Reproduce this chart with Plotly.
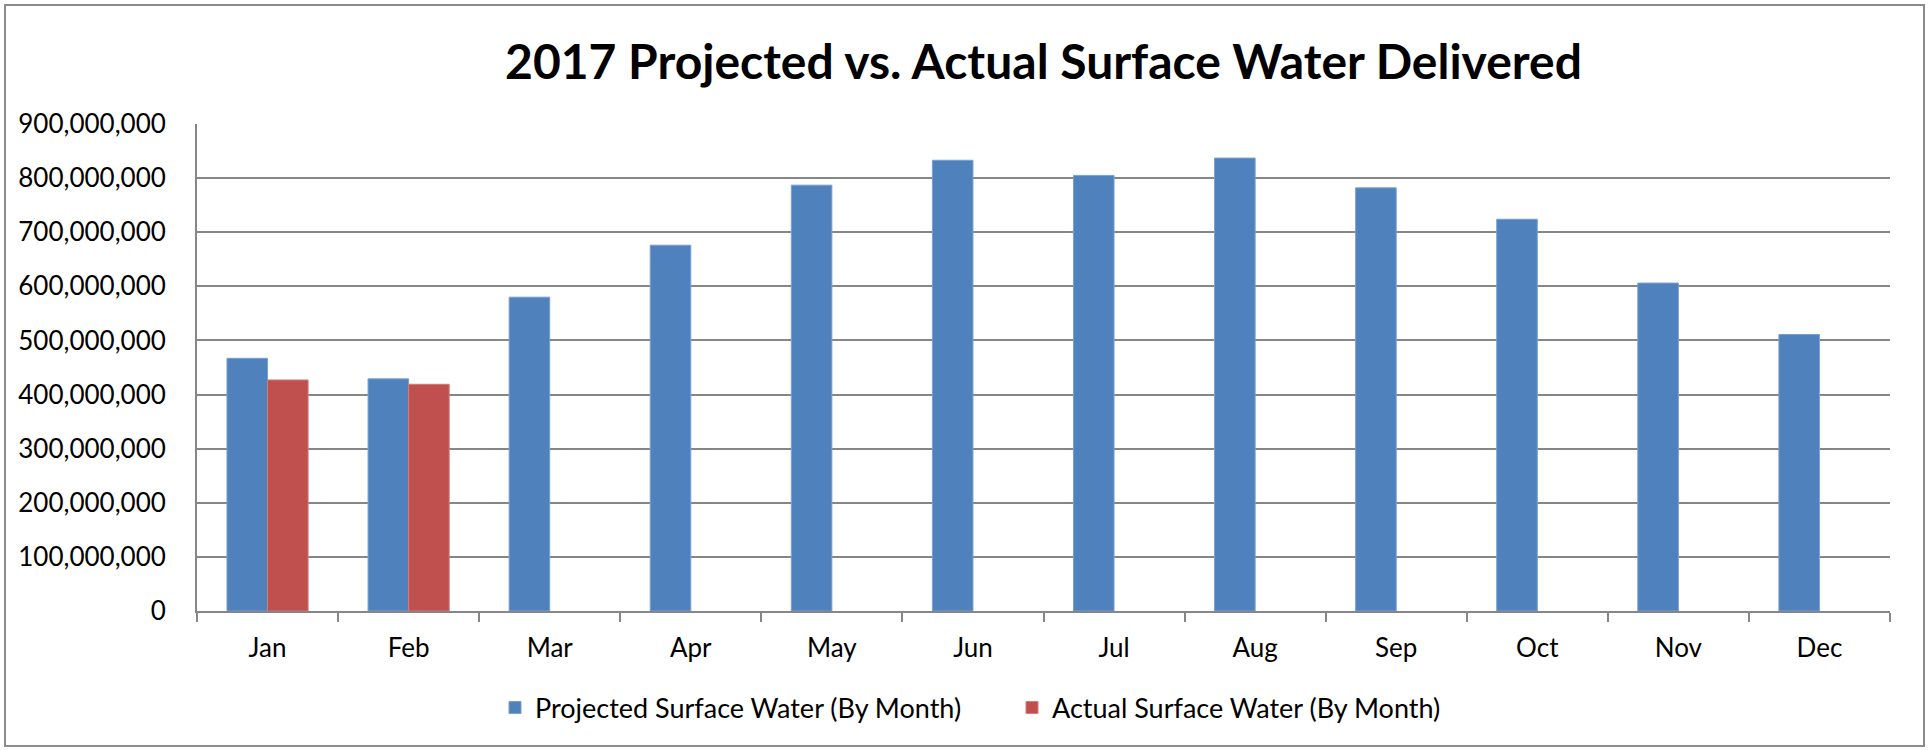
import plotly.graph_objects as go

months = ["Jan", "Feb", "Mar", "Apr", "May", "Jun", "Jul", "Aug", "Sep", "Oct", "Nov", "Dec"]
projected = [467e6, 429e6, 580e6, 676e6, 787e6, 833e6, 805e6, 837e6, 782e6, 724e6, 606e6, 511e6]
actual = [427e6, 419e6, None, None, None, None, None, None, None, None, None, None]
y_ticks = [0, 100e6, 200e6, 300e6, 400e6, 500e6, 600e6, 700e6, 800e6, 900e6]

W, H = 1931, 750
L, R, T, B = 197, 41, 124, 139
pw, ph = W - L - R, H - T - B

def px_x(x):
    return (x - L) / pw

def px_y(y):
    return (H - B - y) / ph

FONT = "Lato, 'Open Sans', sans-serif"

fig = go.Figure()
fig.add_trace(go.Bar(x=months, y=projected, name="Projected Surface Water (By Month)",
                     marker=dict(color="#4F81BD", line=dict(color="#7A9FD0", width=1))))
fig.add_trace(go.Bar(x=months, y=actual, name="Actual Surface Water (By Month)",
                     marker=dict(color="#C0504D", line=dict(color="#D27C7A", width=1))))

fig.update_layout(
    width=W, height=H,
    margin=dict(l=L, r=R, t=T, b=B, pad=0),
    paper_bgcolor="white", plot_bgcolor="white",
    barmode="group", bargap=0.425, bargroupgap=0,
    font=dict(family=FONT, color="black", size=26),
    title=dict(text="<b>2017 Projected vs. Actual Surface Water Delivered</b>",
               font=dict(family=FONT, size=48, color="black"),
               x=0.5, xref="paper", xanchor="center",
               y=1 - 62 / H, yref="container", yanchor="middle"),
    legend=dict(orientation="h", xref="container", x=495 / W, xanchor="left",
                yref="container", y=1 - 708 / H, yanchor="middle",
                font=dict(size=27), itemwidth=30, traceorder="normal",
                entrywidth=472, entrywidthmode="pixels"),
    showlegend=True,
)
fig.update_xaxes(showline=True, linecolor="#868686", linewidth=2,
                 ticks="outside", tickson="boundaries", ticklen=9, tickwidth=2, tickcolor="#868686",
                 ticklabelstandoff=13, showgrid=False)
fig.update_yaxes(range=[0, 900e6], tickvals=y_ticks, tickformat=",d",
                 showline=True, linecolor="#868686", linewidth=2,
                 showgrid=True, gridcolor="#868686", gridwidth=2,
                 ticks="", ticklabelstandoff=24, zeroline=False)

fig.add_shape(type="rect", xref="paper", yref="paper",
              x0=px_x(5), x1=px_x(1924), y0=px_y(746), y1=px_y(5),
              line=dict(color="#8C8C8C", width=2), fillcolor="rgba(0,0,0,0)", layer="below")

fig.write_html("out.html", config={"displayModeBar": False},
               post_script="document.body.style.margin='0';document.body.style.overflow='hidden';")
